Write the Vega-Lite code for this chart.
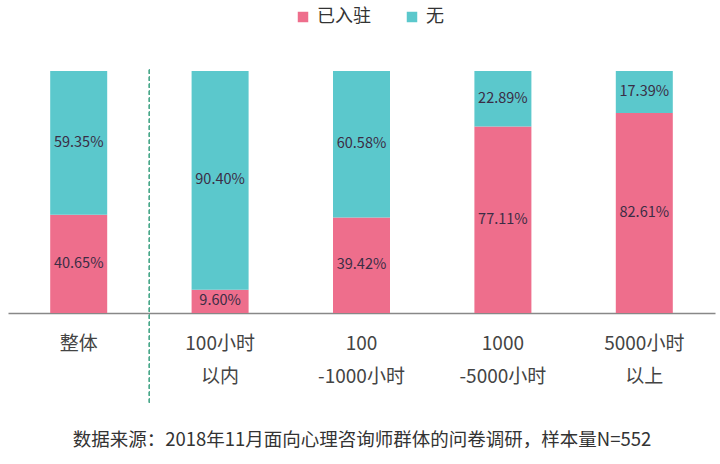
{
  "$schema": "https://vega.github.io/schema/vega-lite/v6.json",
  "autosize": {"type": "none"},
  "width": 707,
  "height": 242,
  "padding": {"left": 8, "top": 71, "right": 5, "bottom": 151},
  "background": "white",
  "data": {
    "values": [
      {"cat": "整体", "s": "已入驻", "v": 0.4065},
      {"cat": "整体", "s": "无", "v": 0.5935},
      {"cat": "100小时\n以内", "s": "已入驻", "v": 0.096},
      {"cat": "100小时\n以内", "s": "无", "v": 0.904},
      {"cat": "100\n-1000小时", "s": "已入驻", "v": 0.3942},
      {"cat": "100\n-1000小时", "s": "无", "v": 0.6058},
      {"cat": "1000\n-5000小时", "s": "已入驻", "v": 0.7711},
      {"cat": "1000\n-5000小时", "s": "无", "v": 0.2289},
      {"cat": "5000小时\n以上", "s": "已入驻", "v": 0.8261},
      {"cat": "5000小时\n以上", "s": "无", "v": 0.1739}
    ]
  },
  "transform": [
    {"stack": "v", "groupby": ["cat"], "sort": [{"field": "s"}], "as": ["v0", "v1"]},
    {"calculate": "(datum.v0 + datum.v1) / 2", "as": "mid"}
  ],
  "encoding": {
    "x": {
      "field": "cat",
      "type": "nominal",
      "sort": null,
      "scale": {"paddingInner": 0, "paddingOuter": 0},
      "axis": {
        "title": "数据来源：2018年11月面向心理咨询师群体的问卷调研，样本量N=552",
        "titleFontSize": 18.5,
        "titleFontWeight": "normal",
        "titleColor": "#333333",
        "titlePadding": 44,
        "labelExpr": "split(datum.label, '\\n')",
        "labelAngle": 0,
        "labelFontSize": 19,
        "labelColor": "#444444",
        "labelPadding": 21,
        "labelLineHeight": 33,
        "ticks": false,
        "domainColor": "#888888",
        "domainWidth": 1.5
      }
    }
  },
  "layer": [
    {
      "mark": {"type": "bar", "size": 57},
      "encoding": {
        "y": {"field": "v0", "type": "quantitative", "scale": {"domain": [0, 1]}, "axis": null},
        "y2": {"field": "v1"},
        "color": {
          "field": "s",
          "type": "nominal",
          "scale": {"domain": ["已入驻", "无"], "range": ["#EE6E8C", "#5BC8CC"]},
          "legend": {
            "title": null,
            "orient": "none",
            "direction": "horizontal",
            "legendX": 286,
            "legendY": -63,
            "padding": 0,
            "symbolType": "square",
            "symbolSize": 110,
            "symbolStrokeWidth": 0,
            "labelFontSize": 18,
            "labelColor": "#333333",
            "labelOffset": 5,
            "columnPadding": 32
          }
        }
      }
    },
    {
      "mark": {"type": "text", "fontSize": 14.5, "color": "#3b2d45", "baseline": "middle"},
      "encoding": {
        "y": {"field": "mid", "type": "quantitative"},
        "text": {"field": "v", "format": ".2%"}
      }
    },
    {
      "mark": {"type": "rule", "color": "#4aa88a", "strokeDash": [4, 3], "strokeWidth": 1},
      "encoding": {
        "x": {"datum": "整体", "type": "nominal", "bandPosition": 1},
        "y": {"datum": 1.005, "type": "quantitative"},
        "y2": {"datum": -0.37}
      }
    }
  ],
  "config": {
    "font": "Noto Sans CJK SC",
    "view": {"stroke": null},
    "axis": {"grid": false}
  }
}
